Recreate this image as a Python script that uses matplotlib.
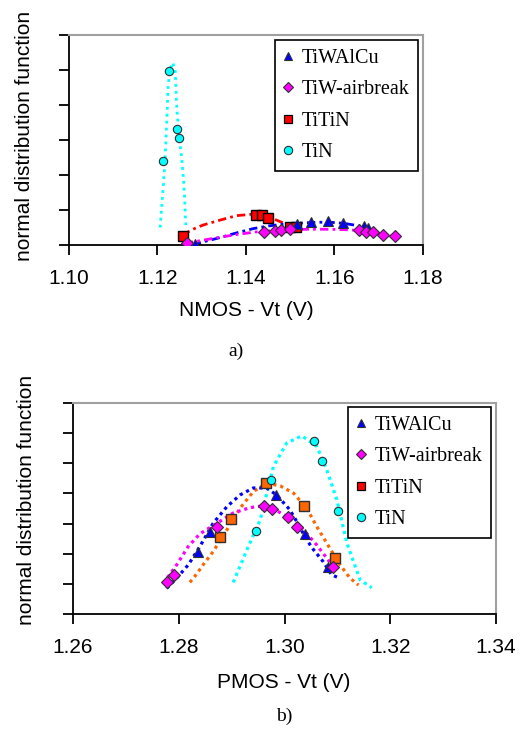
import matplotlib
matplotlib.use("Agg")
import matplotlib.pyplot as plt
from matplotlib.lines import Line2D

# ---------------- data: panel a) NMOS ----------------
series = ["TiWAlCu", "TiW-airbreak", "TiTiN", "TiN"]

n_tiwalcu_x = [1.1285, 1.1515, 1.1548, 1.1586, 1.1620, 1.1667, 1.1675]
n_tiwalcu_y = [0.02, 0.60, 0.67, 0.68, 0.64, 0.53, 0.50]
n_air_x = [1.1266, 1.1440, 1.1466, 1.1478, 1.1500, 1.1656, 1.1671, 1.1686, 1.1710, 1.1737]
n_air_y = [0.06, 0.38, 0.40, 0.43, 0.45, 0.43, 0.36, 0.38, 0.29, 0.27]
n_titin_x = [1.1258, 1.1422, 1.1436, 1.1450, 1.1500, 1.1512]
n_titin_y = [0.26, 0.85, 0.85, 0.78, 0.52, 0.52]
n_tin_x = [1.1213, 1.1227, 1.1245, 1.1249]
n_tin_y = [2.41, 4.98, 3.32, 3.06]

# fitted curves
nf_tiwalcu_x = [1.1280, 1.1300, 1.1341, 1.1380, 1.1417, 1.1454, 1.1490, 1.1529, 1.1560, 1.1590, 1.1620, 1.1650, 1.1680]
nf_tiwalcu_y = [0.00, 0.08, 0.21, 0.35, 0.47, 0.55, 0.60, 0.63, 0.65, 0.65, 0.62, 0.56, 0.47]
nf_air_x = [1.1262, 1.1300, 1.1340, 1.1380, 1.1420, 1.1460, 1.1500, 1.1540, 1.1580, 1.1620, 1.1650, 1.1680, 1.1710, 1.1737]
nf_air_y = [0.05, 0.13, 0.22, 0.30, 0.37, 0.41, 0.44, 0.45, 0.45, 0.44, 0.42, 0.38, 0.31, 0.26]
nf_titin_x = [1.1256, 1.1280, 1.1303, 1.1341, 1.1379, 1.1416, 1.1446, 1.1469, 1.1492, 1.1515]
nf_titin_y = [0.28, 0.45, 0.57, 0.71, 0.84, 0.88, 0.81, 0.71, 0.59, 0.50]
nf_tin_x = [1.1206, 1.1213, 1.1217, 1.1221, 1.1224, 1.1228, 1.1234, 1.1240, 1.1243, 1.1247, 1.1255, 1.1260, 1.1264]
nf_tin_y = [0.50, 1.67, 2.40, 3.57, 4.52, 5.00, 5.21, 5.00, 4.05, 3.33, 2.43, 1.67, 0.57]

n_xticks = [1.10, 1.12, 1.14, 1.16, 1.18]
n_xticklabels = ["1.10", "1.12", "1.14", "1.16", "1.18"]

# ---------------- data: panel b) PMOS ----------------
p_tiwalcu_x = [1.2836, 1.2859, 1.2983, 1.3038, 1.3083]
p_tiwalcu_y = [2.07, 2.73, 3.94, 2.64, 1.55]
p_air_x = [1.2777, 1.2791, 1.2872, 1.2961, 1.2977, 1.3006, 1.3024, 1.3092]
p_air_y = [1.07, 1.30, 2.88, 3.59, 3.49, 3.21, 2.90, 1.57]
p_titin_x = [1.2878, 1.2898, 1.2965, 1.3037, 1.3096]
p_titin_y = [2.54, 3.15, 4.36, 3.57, 1.85]
p_tin_x = [1.2946, 1.2974, 1.3055, 1.3070, 1.3101]
p_tin_y = [2.76, 4.43, 5.73, 5.09, 3.43]

pf_tin_x = [1.2903, 1.2929, 1.2954, 1.2979, 1.3004, 1.3033, 1.3061, 1.3080, 1.3099, 1.3118, 1.3143, 1.3165]
pf_tin_y = [1.05, 2.13, 3.12, 4.89, 5.67, 5.91, 5.56, 4.78, 3.79, 2.35, 1.13, 0.87]
pf_tiwalcu_x = [1.2777, 1.2793, 1.2818, 1.2840, 1.2865, 1.2891, 1.2916, 1.2941, 1.2966, 1.2985, 1.3010, 1.3023, 1.3042, 1.3055, 1.3073, 1.3089, 1.3104]
pf_tiwalcu_y = [0.85, 1.13, 1.63, 2.24, 3.01, 3.56, 3.95, 4.18, 4.18, 3.95, 3.46, 3.07, 2.46, 2.13, 1.74, 1.30, 1.19]
pf_titin_x = [1.2821, 1.2834, 1.2846, 1.2865, 1.2891, 1.2916, 1.2941, 1.2966, 1.2992, 1.3017, 1.3042, 1.3061, 1.3080, 1.3105, 1.3124, 1.3140]
pf_titin_y = [1.05, 1.33, 1.63, 2.07, 2.79, 3.51, 4.06, 4.34, 4.25, 4.01, 3.51, 2.90, 2.35, 1.63, 1.19, 0.96]
pf_air_x = [1.2771, 1.2796, 1.2818, 1.2840, 1.2872, 1.2903, 1.2935, 1.2960, 1.2985, 1.3010, 1.3036, 1.3061, 1.3080, 1.3092]
pf_air_y = [1.02, 1.63, 2.24, 2.66, 3.01, 3.35, 3.53, 3.59, 3.43, 3.18, 2.79, 2.29, 1.85, 1.57]

p_xticks = [1.26, 1.28, 1.30, 1.32, 1.34]
p_xticklabels = ["1.26", "1.28", "1.30", "1.32", "1.34"]

# ---------------- style ----------------
BLUE, MAG, RED, CYAN, ORANGE = "#0000ff", "#ff00ff", "#ff0000", "#00ffff", "#ff6600"
EDGE = "#303030"
SANS = "Liberation Sans"
SERIF = "Liberation Serif"
FS = 15

W, H = 523, 729
fig = plt.figure(figsize=(W / 100, H / 100), dpi=100)
fig.patch.set_facecolor("white")


def px_axes(l, t, r, b):
    return fig.add_axes([l / W, 1 - b / H, (r - l) / W, (b - t) / H])


def style_axes(ax, xlim, xticks, xlabels, ylim):
    ax.set_xlim(*xlim)
    ax.set_ylim(*ylim)
    ax.set_xticks(xticks)
    ax.set_xticklabels(xlabels, fontfamily=SANS, fontsize=FS)
    ax.set_yticks(range(int(ylim[0]), int(ylim[1]) + 1))
    ax.set_yticklabels([])
    ax.tick_params(direction="out", length=7, width=1.3, color="black", pad=10)
    for s in ("left", "bottom"):
        ax.spines[s].set_color("black")
        ax.spines[s].set_linewidth(1.3)
    for s in ("top", "right"):
        ax.spines[s].set_color("#a0a0a0")
        ax.spines[s].set_linewidth(1.5)


def legend_handles():
    return [
        Line2D([], [], ls="none", marker="^", ms=6, mfc=BLUE, mec=EDGE, mew=0.8),
        Line2D([], [], ls="none", marker="D", ms=5, mfc=MAG, mec=EDGE, mew=0.8),
        Line2D([], [], ls="none", marker="s", ms=6, mfc=RED, mec="black", mew=0.9),
        Line2D([], [], ls="none", marker="o", ms=6, mfc=CYAN, mec=EDGE, mew=0.8),
    ]


def add_legend(ax, anchor):
    leg = ax.legend(legend_handles(), series, loc="upper left", bbox_to_anchor=anchor,
                    borderaxespad=0, frameon=True, fancybox=False, framealpha=1,
                    edgecolor="black", prop={"family": SERIF, "size": 14.5},
                    handlelength=0.45, handletextpad=0.45, borderpad=0.42, labelspacing=0.62)
    leg.get_frame().set_linewidth(1.2)
    return leg


# ---------------- panel a ----------------
ax1 = px_axes(69, 35, 423, 245)
dd = (0, (3, 1.5, 1, 1.5))
ax1.plot(nf_tin_x, nf_tin_y, color=CYAN, ls=(0, (1, 1.5)), lw=2, zorder=2)
ax1.plot(nf_titin_x, nf_titin_y, color=RED, ls=dd, lw=2, zorder=2)
ax1.plot(nf_tiwalcu_x, nf_tiwalcu_y, color=BLUE, ls=dd, lw=2, zorder=2)
ax1.plot(nf_air_x, nf_air_y, color=MAG, ls=dd, lw=2, zorder=2)

ax1.plot(n_titin_x, n_titin_y, ls="none", marker="s", ms=7, mfc=RED, mec="black", mew=1, zorder=3)
ax1.plot(n_tiwalcu_x, n_tiwalcu_y, ls="none", marker="^", ms=7, mfc=BLUE, mec=EDGE, mew=0.8, zorder=3)
ax1.plot(n_air_x, n_air_y, ls="none", marker="D", ms=6, mfc=MAG, mec=EDGE, mew=0.8, zorder=3)
ax1.plot(n_tin_x, n_tin_y, ls="none", marker="o", ms=6, mfc=CYAN, mec=EDGE, mew=0.8, zorder=3)

style_axes(ax1, (1.10, 1.18), n_xticks, n_xticklabels, (0, 6))
add_legend(ax1, ((275 - 69) / 354, (245 - 40) / 210))

# ---------------- panel b ----------------
ax2 = px_axes(73, 403, 496, 614)
dots = (0, (1, 1.2))
ax2.plot(pf_tin_x, pf_tin_y, color=CYAN, ls=dots, lw=2.3, zorder=2)
ax2.plot(pf_titin_x, pf_titin_y, color=ORANGE, ls=dots, lw=2.3, zorder=2)
ax2.plot(pf_tiwalcu_x, pf_tiwalcu_y, color=BLUE, ls=dots, lw=2.3, zorder=2)
ax2.plot(pf_air_x, pf_air_y, color=MAG, ls=dots, lw=2.3, zorder=2)

ax2.plot(p_tiwalcu_x, p_tiwalcu_y, ls="none", marker="^", ms=7, mfc=BLUE, mec=EDGE, mew=0.8, zorder=3)
ax2.plot(p_titin_x, p_titin_y, ls="none", marker="s", ms=7, mfc=ORANGE, mec=EDGE, mew=1, zorder=3)
ax2.plot(p_air_x, p_air_y, ls="none", marker="D", ms=6, mfc=MAG, mec=EDGE, mew=0.8, zorder=3)
ax2.plot(p_tin_x, p_tin_y, ls="none", marker="o", ms=6, mfc=CYAN, mec=EDGE, mew=0.8, zorder=3)

style_axes(ax2, (1.26, 1.34), p_xticks, p_xticklabels, (0, 7))
add_legend(ax2, ((348 - 73) / 423, (614 - 407) / 211))

# ---------------- labels ----------------
def ftext(x, y, s, **kw):
    fig.text(x / W, 1 - y / H, s, ha="center", va="center", **kw)

ftext(246, 311, "NMOS - Vt (V)", fontfamily=SANS, fontsize=FS)
ftext(25, 136, "normal distribution function", fontfamily=SANS, fontsize=FS, rotation=90)
ftext(236, 351, "a)", fontfamily=SERIF, fontsize=14)

ftext(284, 683, "PMOS - Vt (V)", fontfamily=SANS, fontsize=FS)
ftext(27, 500, "normal distribution function", fontfamily=SANS, fontsize=FS, rotation=90)
ftext(284, 716, "b)", fontfamily=SERIF, fontsize=14)

fig.savefig("out.png", dpi=100, facecolor="white")
